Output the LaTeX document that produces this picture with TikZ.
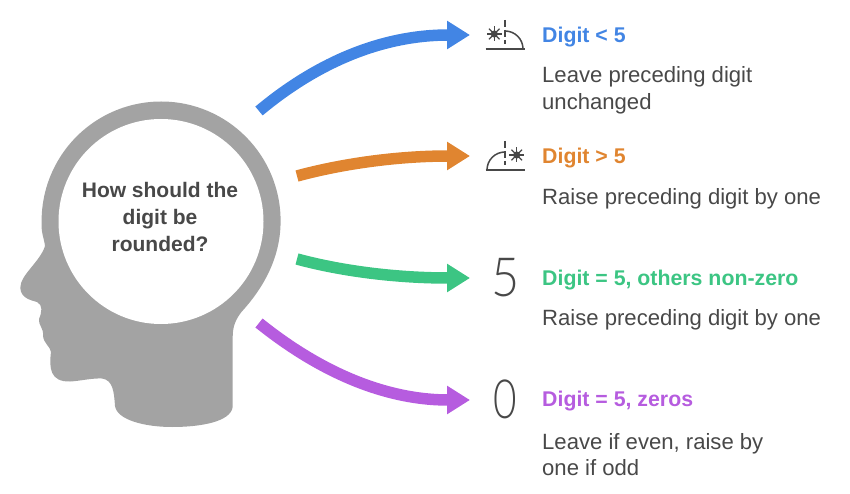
\documentclass[tikz,border=0pt]{standalone}
\usepackage{fontspec}
\setmainfont{Liberation Sans}
\newfontfamily\thinfont{Lato Light}
\usetikzlibrary{arrows.meta}
\definecolor{headgray}{HTML}{A3A3A3}
\definecolor{inkgray}{HTML}{484848}
\definecolor{bluecase}{HTML}{4285E4}
\definecolor{orangecase}{HTML}{E08530}
\definecolor{greencase}{HTML}{3CC583}
\definecolor{purplecase}{HTML}{B65CDF}
\tikzset{
  x=1pt, y=-1pt,
  flow/.style={line width=11.5pt, -{Triangle[length=23pt,width=27pt]}},
  case/.style={anchor=west, inner sep=0pt, font=\fontsize{21.3}{26}\selectfont\bfseries},
  info/.style={anchor=west, inner sep=0pt, align=left, text=inkgray, font=\fontsize{22.1}{26.5}\selectfont},
  icon/.style={draw=inkgray, line width=1.5pt},
  numeral/.style={inner sep=0pt, text=inkgray, font=\fontsize{54}{54}\thinfont},
}
\begin{document}
\begin{tikzpicture}
    \useasboundingbox (0,0) rectangle (850,494);

    % Head
    \fill[headgray] (232.7,406.7) -- (232.7,336.7)
        .. controls (232.7,326) and (236,319) .. (241.7,311.7)
        .. controls (266,285) and (280.6,255) .. (280.6,221)
        arc[start angle=0, end angle=-182, radius=119.5]
        .. controls (41,232) and (44,238) .. (45,246)
        .. controls (40,262) and (20,275) .. (20.3,288)
        .. controls (21,298) and (30,300) .. (37,302)
        .. controls (43,305) and (42,312) .. (39,319)
        .. controls (38,325) and (44,328) .. (43,336)
        .. controls (44,344) and (50,346) .. (51,352)
        .. controls (49,368) and (50,382) .. (70,381.5)
        .. controls (80,381) and (92,378) .. (102,378.5)
        .. controls (113,380) and (114,392) .. (115,406)
        .. controls (117,420) and (145,427) .. (172,427)
        .. controls (200,427) and (231,422) .. (232.7,406.7) -- cycle;
    \node[circle, fill=white, inner sep=0pt, minimum size=205pt] (brain) at (161,221.5) {};
    \node[align=center, text=inkgray, inner sep=0pt, font=\fontsize{21}{27}\selectfont\bfseries] (question) at (160,217) {How should the\\digit be\\rounded?};

    % Arrow ends
    \coordinate (start1) at (259,111);
    \coordinate (start2) at (297,176);
    \coordinate (start3) at (297,259);
    \coordinate (start4) at (259,323);
    \coordinate (end1) at (470,35);
    \coordinate (end2) at (470,156);
    \coordinate (end3) at (470,278);
    \coordinate (end4) at (470,400);

    % Arrows
    \draw[flow, bluecase] (start1) .. controls (320,60) and (385,35) .. (end1);
    \draw[flow, orangecase] (start2) .. controls (345,163) and (400,156) .. (end2);
    \draw[flow, greencase] (start3) .. controls (345,272) and (400,278) .. (end3);
    \draw[flow, purplecase] (start4) .. controls (320,372) and (385,400) .. (end4);

    % Half sun, digit below
    \draw[icon] (485.7,49) -- (525,49);
    \draw[icon] (505,31) arc[start angle=-90, end angle=0, radius=18];
    \draw[icon, dash pattern=on 7pt off 3pt] (505,20) -- (505,44);
    \fill[inkgray] (494.3,34) circle[radius=3.6pt];
    \foreach \a in {0,45,...,315}
        \draw[icon, line width=1.2pt] (494.3,34) -- +(\a:7.5);

    % Half sun, digit above
    \draw[icon] (485.7,170) -- (525,170);
    \draw[icon] (487,170) arc[start angle=180, end angle=270, radius=18];
    \draw[icon, dash pattern=on 7pt off 3pt] (505,141) -- (505,165);
    \fill[inkgray] (516.7,155) circle[radius=3.6pt];
    \foreach \a in {0,45,...,315}
        \draw[icon, line width=1.2pt] (516.7,155) -- +(\a:7.5);

    % Numerals
    \node[numeral] (five) at (505.5,277.5) {\scalebox{0.9}[1]{5}};
    \node[numeral] (zero) at (505.5,399) {\scalebox{0.75}[1]{0}};

    % Case 1
    \node[case, text=bluecase] (case1) at (542,37) {Digit < 5};
    \node[info] (info1) at (542,90.5) {Leave preceding digit\\unchanged};

    % Case 2
    \node[case, text=orangecase] (case2) at (542,158) {Digit > 5};
    \node[info] (info2) at (542,198.5) {Raise preceding digit by one};

    % Case 3
    \node[case, text=greencase] (case3) at (542,280) {Digit = 5, others non-zero};
    \node[info] (info3) at (542,319.5) {Raise preceding digit by one};

    % Case 4
    \node[case, text=purplecase] (case4) at (542,401) {Digit = 5, zeros};
    \node[info] (info4) at (542,454.5) {Leave if even, raise by\\one if odd};
\end{tikzpicture}
\end{document}
